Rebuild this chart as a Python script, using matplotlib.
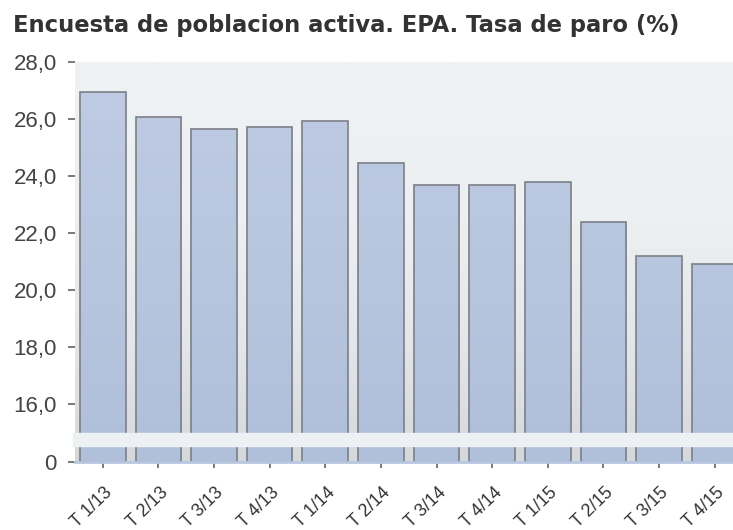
import matplotlib
matplotlib.use('Agg')
import matplotlib.pyplot as plt
import matplotlib.transforms as mtransforms
from matplotlib.colors import LinearSegmentedColormap
import numpy as np

# Datos: EPA, tasa de paro (%) por trimestre
trimestres = ['T 1/13', 'T 2/13', 'T 3/13', 'T 4/13',
              'T 1/14', 'T 2/14', 'T 3/14', 'T 4/14',
              'T 1/15', 'T 2/15', 'T 3/15', 'T 4/15']
tasa_paro = [26.94, 26.06, 25.65, 25.73, 25.93, 24.47,
             23.67, 23.70, 23.78, 22.37, 21.18, 20.90]
yticks = [0, 16, 18, 20, 22, 24, 26, 28]
yticklabels = ['0', '16,0', '18,0', '20,0', '22,0', '24,0', '26,0', '28,0']

plt.rcParams['font.family'] = ['Liberation Sans', 'DejaVu Sans']

# eje con corte: por debajo de 16 se comprime
CORTE = 16.0
K = 2.035 / 16.0


def fwd(v):
    v = np.asarray(v, dtype=float)
    return np.where(v >= CORTE, v, CORTE - (CORTE - v) * K)


def inv(t):
    t = np.asarray(t, dtype=float)
    return np.where(t >= CORTE, t, CORTE - (CORTE - t) / K)


fig = plt.figure(figsize=(7.33, 5.30), dpi=100)
ax = fig.add_axes([75 / 733, 1 - 462 / 530, 1 - 75 / 733, 400 / 530])
ax.set_yscale('function', functions=(fwd, inv))

# fondo con degradado
fondo = LinearSegmentedColormap.from_list(
    'fondo', [(0, '#d5d8db'), (0.3, '#e4e7ea'), (0.6, '#edf0f3'), (1, '#eef2f5')])
grad = np.linspace(0, 1, 256).reshape(-1, 1)
ax.imshow(grad, cmap=fondo, extent=[0, 1, 0, 1], transform=ax.transAxes,
          origin='lower', aspect='auto', zorder=0)

x = np.arange(len(trimestres))
barras = ax.bar(x, tasa_paro, width=0.82, facecolor='none',
                edgecolor='#7c8086', linewidth=1.2, zorder=3)

relleno = LinearSegmentedColormap.from_list('relleno', ['#b0bfda', '#c0cce4'])
for b in barras:
    im = ax.imshow(grad, cmap=relleno, extent=[0, 1, 0, 1], transform=ax.transAxes,
                   origin='lower', aspect='auto', zorder=2)
    im.set_clip_path(b)

# banda del corte
ax.axhspan(4.4, 8.0, xmin=-0.003, xmax=1, color='#edf1f4', zorder=4, clip_on=False)

ax.set_xlim(-0.5, 11.33)
ax.set_ylim(0, 28)
ax.set_yticks(yticks)
ax.set_yticklabels(yticklabels)
ax.set_xticks(x)
ax.set_xticklabels(trimestres, rotation=44, ha='right')

ax.tick_params(axis='y', direction='out', length=5, width=1.1, color='#555555',
               pad=8, labelsize=16, labelcolor='#444444')
ax.tick_params(axis='x', direction='inout', length=8, width=1.1, color='#555555',
               pad=12, labelsize=12.8, labelcolor='#333333')
for t in ax.xaxis.get_major_ticks():
    t.tick1line.set_zorder(6)
ax.minorticks_off()

offset = mtransforms.ScaledTranslation(13 / 100, 0, fig.dpi_scale_trans)
for lbl in ax.get_xticklabels():
    lbl.set_transform(lbl.get_transform() + offset)

for s in ['top', 'right', 'left']:
    ax.spines[s].set_visible(False)
ax.spines['bottom'].set_color('#b8c6e0')
ax.spines['bottom'].set_linewidth(2)
ax.spines['bottom'].set_zorder(5)

fig.text(13 / 733, 1 - 14 / 530, 'Encuesta de poblacion activa. EPA. Tasa de paro (%)',
         fontsize=16.3, fontweight='bold', color='#333333', va='top', ha='left',
         family=['DejaVu Sans'])

fig.savefig('out.png', dpi=100)
